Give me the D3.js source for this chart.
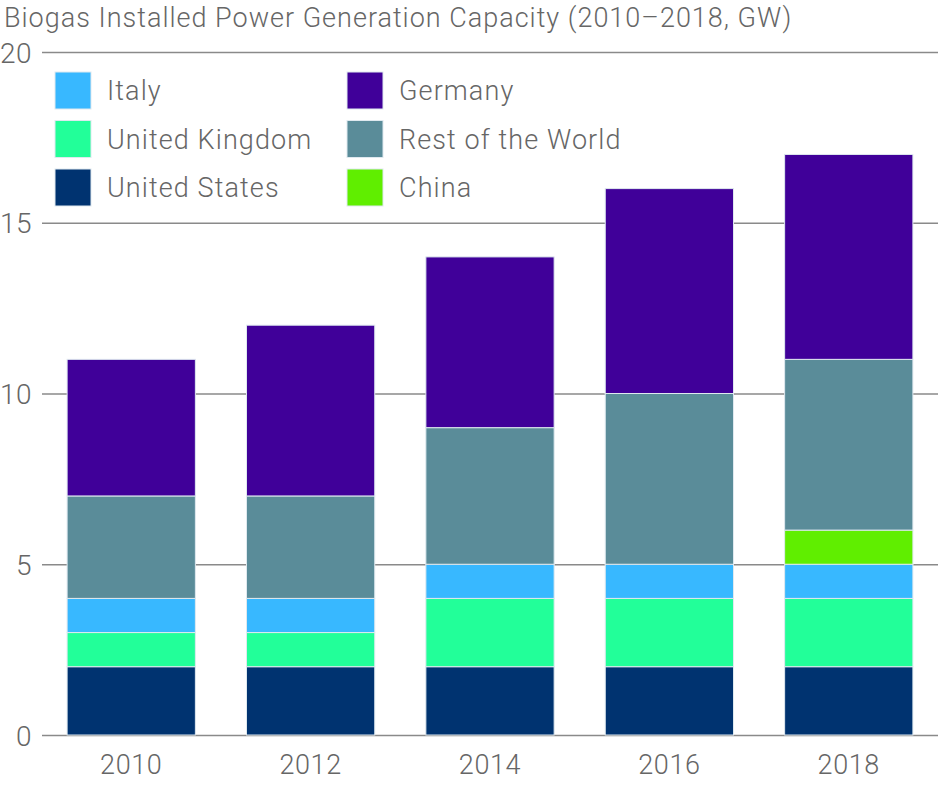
<!DOCTYPE html>
<html>
<head>
<meta charset="utf-8">
<script src="https://cdn.jsdelivr.net/npm/d3@7"></script>
<style>
  body { margin: 0; background: #fff; }
  text { font-family: Roboto, "Liberation Sans", sans-serif; font-weight: 300; fill: #666; }
</style>
</head>
<body>
<div id="chart"></div>
<script>
// Years on the x axis.
const years = ['2010', '2012', '2014', '2016', '2018'];

// Series values in GW, bottom of stack first.
const unitedStates = [2, 2, 2, 2, 2];
const unitedKingdom = [1, 1, 2, 2, 2];
const italy = [1, 1, 1, 1, 1];
const china = [0, 0, 0, 0, 1];
const restOfWorld = [3, 3, 4, 5, 5];
const germany = [4, 5, 5, 6, 6];

const yTicks = [0, 5, 10, 15, 20];

const seriesNames = ['United States', 'United Kingdom', 'Italy', 'China', 'Rest of the World', 'Germany'];
const seriesValues = [unitedStates, unitedKingdom, italy, china, restOfWorld, germany];
const seriesColors = ['#003370', '#22ff99', '#38b8ff', '#60ee00', '#5a8c99', '#400099'];

// Legend order as printed (two columns).
const legendOrder = ['Italy', 'United Kingdom', 'United States', 'Germany', 'Rest of the World', 'China'];

const width = 938;
const height = 785;
const margin = { top: 52, right: 0, bottom: 50, left: 42 };

// Build rows the stack layout can read.
const table = years.map((year, i) => {
  const row = { year };
  seriesNames.forEach((name, s) => { row[name] = seriesValues[s][i]; });
  return row;
});

const stacked = d3.stack().keys(seriesNames)(table);
const color = d3.scaleOrdinal().domain(seriesNames).range(seriesColors);

const x = d3.scaleBand()
  .domain(years)
  .range([margin.left, width - margin.right])
  .paddingInner(0.285)
  .paddingOuter(0.14);

const y = d3.scaleLinear()
  .domain([0, 20])
  .range([height - margin.bottom, margin.top]);

const svg = d3.select('#chart').append('svg')
  .attr('width', width)
  .attr('height', height);

// Title.
svg.append('text')
  .attr('x', 4)
  .attr('y', 27)
  .style('font-size', '27px')
  .style('letter-spacing', '1px')
  .text('Biogas Installed Power Generation Capacity (2010\u20132018, GW)');

// Gridlines and y tick labels.
const yAxis = d3.axisLeft(y)
  .tickValues(yTicks)
  .tickSize(-(width - margin.left - margin.right))
  .tickPadding(10);

svg.append('g')
  .attr('class', 'y axis')
  .attr('transform', `translate(${margin.left},0)`)
  .call(yAxis)
  .call((g) => g.select('.domain').remove())
  .call((g) => g.selectAll('.tick line').attr('stroke', '#8a8a8a').attr('stroke-width', 1.5))
  .call((g) => g.selectAll('.tick text')
    .attr('x', -10)
    .attr('dy', '0.36em')
    .style('font-size', '28px')
    .style('letter-spacing', '0.5px')
    .style('font-family', 'Roboto, sans-serif'));

// Stacked bars.
svg.append('g')
  .selectAll('g')
  .data(stacked)
  .join('g')
  .attr('fill', (d) => color(d.key))
  .selectAll('rect')
  .data((d) => d.filter((p) => p[1] - p[0] > 0))
  .join('rect')
  .attr('x', (d) => x(d.data.year))
  .attr('y', (d) => y(d[1]))
  .attr('width', x.bandwidth())
  .attr('height', (d) => y(d[0]) - y(d[1]))
  .attr('stroke', '#dfe9ef')
  .attr('stroke-width', 1);

// X axis labels.
const xAxis = d3.axisBottom(x).tickSize(0).tickPadding(20);
svg.append('g')
  .attr('class', 'x axis')
  .attr('transform', `translate(0,${height - margin.bottom})`)
  .call(xAxis)
  .call((g) => g.select('.domain').remove())
  .call((g) => g.selectAll('.tick text')
    .style('font-size', '27px')
    .style('letter-spacing', '0.6px')
    .style('font-family', 'Roboto, sans-serif'));

// Legend, two columns of three.
const legend = svg.append('g').attr('class', 'legend');
const legendItem = legend.selectAll('g')
  .data(legendOrder)
  .join('g')
  .attr('transform', (d, i) => `translate(${i < 3 ? 55 : 347},${72 + (i % 3) * 48.5})`);

legendItem.append('rect')
  .attr('width', 36)
  .attr('height', 37)
  .attr('fill', (d) => color(d))
  .attr('stroke', '#dfe9ef')
  .attr('stroke-width', 1);

legendItem.append('text')
  .attr('x', 52)
  .attr('y', 18.5)
  .attr('dy', '0.36em')
  .style('font-size', '27px')
  .style('letter-spacing', '1.1px')
  .text((d) => d);
</script>
</body>
</html>
